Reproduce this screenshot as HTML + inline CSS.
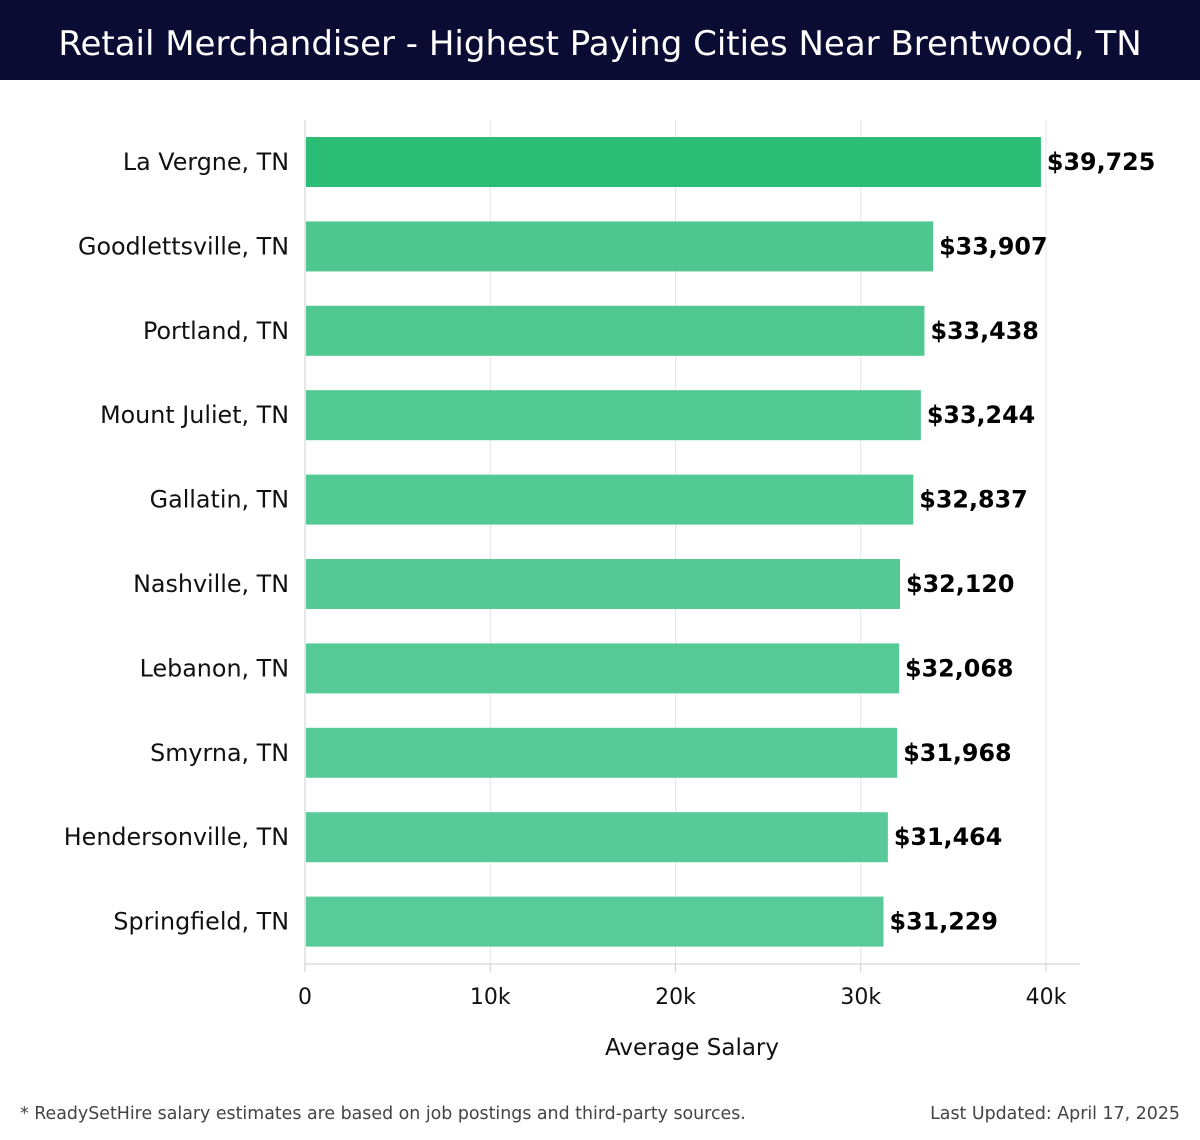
<!DOCTYPE html>
<html><head><meta charset="utf-8"><style>
body{margin:0;width:1200px;height:1140px;background:#fff;font-family:"Liberation Sans","DejaVu Sans",sans-serif;overflow:hidden}
#title{position:absolute;left:0;top:0;width:1200px;height:80px;background:#0b0c33;color:#fff;font-size:34px;line-height:88px;text-align:center;font-family:"DejaVu Sans","Liberation Sans",sans-serif;white-space:nowrap}
svg{position:absolute;left:0;top:0}
</style></head><body>
<div id="title">Retail Merchandiser - Highest Paying Cities Near Brentwood, TN</div>
<svg id="chart" width="1200" height="1140"></svg>
<script>
const categories=["La Vergne, TN","Goodlettsville, TN","Portland, TN","Mount Juliet, TN","Gallatin, TN","Nashville, TN","Lebanon, TN","Smyrna, TN","Hendersonville, TN","Springfield, TN"];
const salaries=[39725,33907,33438,33244,32837,32120,32068,31968,31464,31229];
const tickValues=[0,10000,20000,30000,40000];
const tickLabels=["0","10k","20k","30k","40k"];
const svg=document.getElementById('chart');
const NS="http://www.w3.org/2000/svg";
const x0=305,x1=1046,top0=120,bottom=964,step=84.4,firstCenter=162,barH=50;
const xs=v=>x0+(x1-x0)*v/40000;
const yc=i=>firstCenter+i*step;
function mk(t,a,txt){const e=document.createElementNS(NS,t);for(const k in a)e.setAttribute(k,a[k]);if(txt!=null)e.textContent=txt;svg.appendChild(e);return e;}
tickValues.forEach((v,i)=>{
 const g=mk('line',{x1:xs(v),x2:xs(v),y1:top0,y2:bottom,stroke:'#e6e6e6','stroke-width':1});
 
 
 const tk=mk('line',{x1:xs(v),x2:xs(v),y1:bottom,y2:bottom+8,stroke:'#ccc'});
 
 
 const t=mk('text',{x:xs(v),y:1004,'font-size':22,'text-anchor':'middle',fill:'#111','font-family':'DejaVu Sans, sans-serif'},tickLabels[i]);
 
 
});
const ax=mk('line',{x1:x0,x2:1080,y1:bottom,y2:bottom,stroke:'#ccc'});


const ay=mk('line',{x1:x0,x2:x0,y1:top0,y2:bottom,stroke:'#ccc'});


categories.forEach((c,i)=>{
 const y=yc(i);
 const fill=i===0?'#2bbd76':'rgb('+(78+i*1.2)+','+(199+i*0.4)+','+(141+i*1.5)+')';
 const b=mk('rect',{x:x0+1,y:y-barH/2,width:xs(salaries[i])-x0-1,height:barH,fill:fill});
 
 
 const l=mk('text',{x:289,y:y+8,'font-size':23.8,'text-anchor':'end',fill:'#111','font-family':'DejaVu Sans, sans-serif'},c);
 
 
 const v=mk('text',{x:xs(salaries[i])+6,y:y+8,'font-size':23.8,'font-weight':'bold',fill:'#000','font-family':'DejaVu Sans, sans-serif'},'$'+salaries[i].toLocaleString('en-US'));
 
 
});
const at=mk('text',{x:692,y:1055,'font-size':23,'text-anchor':'middle',fill:'#111','font-family':'DejaVu Sans, sans-serif'},'Average Salary');


const f1=mk('text',{x:20,y:1119,'font-size':17.4,fill:'#444','font-family':'DejaVu Sans, sans-serif'},'* ReadySetHire salary estimates are based on job postings and third-party sources.');


const f2=mk('text',{x:1180,y:1119,'font-size':17.4,fill:'#444','text-anchor':'end','font-family':'DejaVu Sans, sans-serif'},'Last Updated: April 17, 2025');


</script>
</body></html>
